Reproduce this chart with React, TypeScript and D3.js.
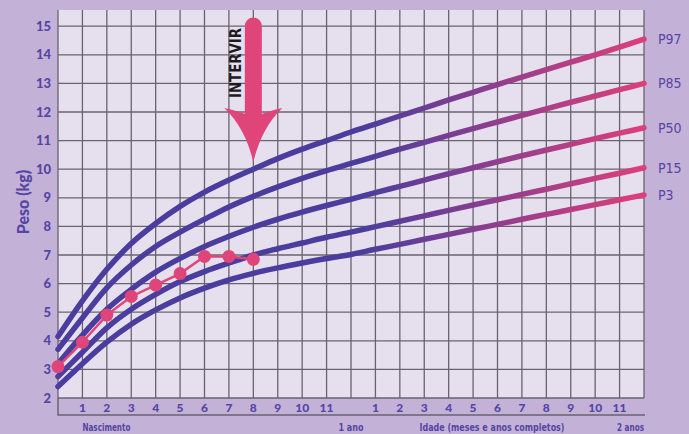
import { useEffect, useRef } from "react";
import * as d3 from "d3";

// weight-for-age percentile curves (kg) by month, 0..24
const months = d3.range(0, 25);
const p3 = [2.4, 3.2, 3.95, 4.58, 5.08, 5.5, 5.84, 6.13, 6.36, 6.55, 6.72, 6.88, 7.02, 7.2, 7.37, 7.55, 7.72, 7.9, 8.07, 8.25, 8.42, 8.59, 8.76, 8.93, 9.1];
const p15 = [2.75, 3.6, 4.45, 5.1, 5.62, 6.07, 6.42, 6.72, 7.0, 7.22, 7.42, 7.62, 7.8, 7.99, 8.18, 8.37, 8.56, 8.75, 8.93, 9.12, 9.3, 9.49, 9.68, 9.86, 10.05];
const p50 = [3.2, 4.2, 5.1, 5.8, 6.4, 6.88, 7.3, 7.65, 7.97, 8.25, 8.5, 8.73, 8.95, 9.18, 9.4, 9.62, 9.84, 10.05, 10.26, 10.47, 10.67, 10.87, 11.07, 11.26, 11.45];
const p85 = [3.7, 4.8, 5.85, 6.65, 7.3, 7.8, 8.25, 8.68, 9.05, 9.38, 9.68, 9.95, 10.2, 10.45, 10.7, 10.94, 11.18, 11.42, 11.65, 11.88, 12.11, 12.34, 12.56, 12.78, 13.0];
const p97 = [4.15, 5.4, 6.5, 7.4, 8.1, 8.7, 9.2, 9.62, 10.0, 10.37, 10.7, 11.0, 11.3, 11.58, 11.86, 12.14, 12.42, 12.69, 12.96, 13.22, 13.48, 13.74, 14.0, 14.27, 14.55];
const curves = [
  { name: "P97", values: p97 },
  { name: "P85", values: p85 },
  { name: "P50", values: p50 },
  { name: "P15", values: p15 },
  { name: "P3", values: p3 },
];

// child's measurements
const childMonths = [0, 1, 2, 3, 4, 5, 6, 7, 8];
const childWeights = [3.1, 3.95, 4.9, 5.55, 5.95, 6.35, 6.95, 6.95, 6.85];

const yTicks = [2, 3, 4, 5, 6, 7, 8, 9, 10, 11, 12, 13, 14, 15];
const xTickMonths = [1, 2, 3, 4, 5, 6, 7, 8, 9, 10, 11, 13, 14, 15, 16, 17, 18, 19, 20, 21, 22, 23];
const xTickLabels = ["1", "2", "3", "4", "5", "6", "7", "8", "9", "10", "11", "1", "2", "3", "4", "5", "6", "7", "8", "9", "10", "11"];
const interveneMonth = 8;

const GrowthChart = () => {
  const svgRef = useRef<SVGSVGElement>(null);

  useEffect(() => {
    const svg = d3.select(svgRef.current);
    svg.selectAll("*").remove();

    const W = 689, H = 434;
    const left = 58, right = 644, top = 10, bottom = 398;
    const textColor = "#5646a4";
    const pink = "#e0457a";

    svg.attr("width", W).attr("height", H);
    svg.append("rect").attr("width", W).attr("height", H).attr("fill", "#c4b1d8");

    const x = d3.scaleLinear().domain([0, 24]).range([left, right]);
    const y = d3.scaleLinear().domain([2, 15]).range([bottom, bottom - 13 * 28.6]);

    const defs = svg.append("defs");
    const grad = defs.append("linearGradient")
      .attr("id", "curveGrad")
      .attr("gradientUnits", "userSpaceOnUse")
      .attr("x1", x(12.5)).attr("x2", right).attr("y1", 0).attr("y2", 0);
    grad.append("stop").attr("offset", "0%").attr("stop-color", "#4a3d9e");
    grad.append("stop").attr("offset", "100%").attr("stop-color", "#de3f7b");

    // plot background
    svg.append("rect")
      .attr("x", left).attr("y", top)
      .attr("width", right - left).attr("height", bottom - top)
      .attr("fill", "#e6e0ee");

    const grid = svg.append("g").attr("stroke", "#6a636f").attr("stroke-width", 1.3);
    grid.selectAll("line.h")
      .data(yTicks)
      .enter().append("line")
      .attr("x1", left).attr("x2", right)
      .attr("y1", d => y(d)).attr("y2", d => y(d));
    grid.selectAll("line.v")
      .data(months)
      .enter().append("line")
      .attr("x1", d => x(d)).attr("x2", d => x(d))
      .attr("y1", top).attr("y2", bottom);

    // axis frame at bottom
    svg.append("path")
      .attr("d", `M${left},${bottom} V415 H${right + 1}`)
      .attr("fill", "none").attr("stroke", "#6a636f").attr("stroke-width", 1.5);

    // y tick labels
    svg.append("g").selectAll("text")
      .data(yTicks)
      .enter().append("text")
      .attr("x", 51).attr("y", d => y(d) + 4.5)
      .attr("text-anchor", "end")
      .attr("font-family", "Lato, sans-serif").attr("font-weight", 900)
      .attr("font-size", 13).attr("fill", textColor)
      .text(d => d);

    svg.append("text")
      .attr("transform", `translate(29, 202) rotate(-90)`)
      .attr("text-anchor", "middle")
      .attr("font-family", "Lato, sans-serif").attr("font-weight", 900)
      .attr("font-size", 16).attr("fill", textColor)
      .text("Peso (kg)");

    // x tick labels
    svg.append("g").selectAll("text")
      .data(xTickMonths)
      .enter().append("text")
      .attr("x", d => x(d)).attr("y", 412)
      .attr("text-anchor", "middle")
      .attr("font-family", "Lato, sans-serif").attr("font-weight", 900)
      .attr("font-size", 12).attr("fill", textColor)
      .text((d, i) => xTickLabels[i]);

    const bottomLabel = (t: string, cx: number, anchor: string, len: number) =>
      svg.append("text")
        .attr("x", cx).attr("y", 431)
        .attr("text-anchor", anchor)
        .attr("font-family", "'Liberation Sans Narrow', 'DejaVu Sans Condensed', sans-serif")
        .attr("font-weight", 700).attr("font-size", 11).attr("fill", textColor)
        .attr("textLength", len).attr("lengthAdjust", "spacingAndGlyphs")
        .text(t);
    bottomLabel("Nascimento", x(1), "start", 48);
    bottomLabel("1 ano", x(12), "middle", 25);
    bottomLabel("Idade (meses e anos completos)", 492, "middle", 145);
    bottomLabel("2 anos", right, "end", 27);

    // percentile curves
    const line = d3.line<number>()
      .x((d, i) => x(months[i]))
      .y(d => y(d))
      .curve(d3.curveMonotoneX);

    svg.append("g").selectAll("path")
      .data(curves)
      .enter().append("path")
      .attr("d", d => line(d.values))
      .attr("fill", "none")
      .attr("stroke", "url(#curveGrad)")
      .attr("stroke-width", 5.5)
      .attr("stroke-linecap", "round");

    svg.append("g").selectAll("text")
      .data(curves)
      .enter().append("text")
      .attr("x", 658).attr("y", d => y(d.values[24]) + 5)
      .attr("font-family", "'Liberation Sans Narrow', 'DejaVu Sans Condensed', sans-serif")
      .attr("font-size", 14).attr("fill", textColor)
      .text(d => d.name);

    // child's measurements
    const childLine = d3.line<number>()
      .x((d, i) => x(childMonths[i]))
      .y(d => y(d));
    svg.append("path")
      .attr("d", childLine(childWeights))
      .attr("fill", "none").attr("stroke", pink).attr("stroke-width", 2.5);
    svg.append("g").selectAll("circle")
      .data(childWeights)
      .enter().append("circle")
      .attr("cx", (d, i) => x(childMonths[i]))
      .attr("cy", d => y(d))
      .attr("r", 6.5)
      .attr("fill", pink);

    // INTERVIR arrow
    const ax = x(interveneMonth);
    const tipY = y(p97[interveneMonth]) - 7;
    svg.append("line")
      .attr("x1", ax).attr("x2", ax)
      .attr("y1", 26).attr("y2", 118)
      .attr("stroke", pink).attr("stroke-width", 17)
      .attr("stroke-linecap", "round");
    svg.append("path")
      .attr("d", `M${ax - 29},108 Q${ax - 10},112 ${ax},118 Q${ax + 10},112 ${ax + 29},108 Q${ax + 8},128 ${ax},${tipY} Q${ax - 8},128 ${ax - 29},108 Z`)
      .attr("fill", pink);

    svg.append("text")
      .attr("transform", `translate(${ax - 12}, 63) rotate(-90)`)
      .attr("text-anchor", "middle")
      .attr("font-family", "'Liberation Sans Narrow', 'DejaVu Sans Condensed', sans-serif")
      .attr("font-weight", 700).attr("font-size", 15).attr("fill", "#1e1a1e")
      .attr("textLength", 70).attr("lengthAdjust", "spacingAndGlyphs")
      .text("INTERVIR");
  }, []);

  return <svg ref={svgRef} style={{ position: "absolute", left: 0, top: 0, display: "block" }}></svg>;
};

export default function App() {
  return <GrowthChart />;
}
